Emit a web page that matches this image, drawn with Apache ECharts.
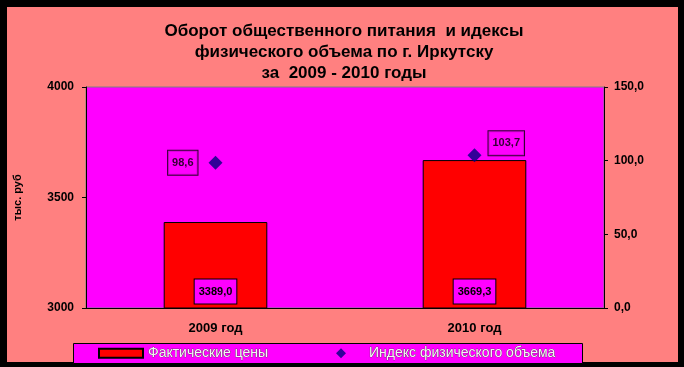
<!DOCTYPE html>
<html><head><meta charset="utf-8">
<script src="https://cdn.jsdelivr.net/npm/echarts@6/dist/echarts.min.js"></script>
<style>html,body{margin:0;padding:0;background:#000;}#c{width:684px;height:367px;}</style>
</head><body><div id="c"></div>
<script>
const titleLines = ['Оборот общественного питания  и идексы', 'физического объема по г. Иркутску', 'за  2009 - 2010 годы'];
const categories = ['2009 год', '2010 год'];
const turnover = [3389.0, 3669.3];
const index = [98.6, 103.7];
const seriesNames = ['Фактические цены', 'Индекс физического объема'];
const leftAxisName = 'тыс. руб';
const leftAxis = {min: 3000, max: 4000, interval: 500};
const rightAxis = {min: 0, max: 150, interval: 50};

const fmt = v => Number(v).toFixed(1).replace('.', ',');
const FONT = 'Arial, "Liberation Sans", sans-serif';
const labelBox = {
  backgroundColor: '#FF00FF', borderColor: '#000', borderWidth: 1,
  color: '#000', fontFamily: FONT, fontSize: 11, fontWeight: 'bold',
  padding: [7, 4, 6, 4]
};
const legendText = {fontFamily: FONT, fontSize: 14, color: '#f4f4f4', textBorderColor: '#444', textBorderWidth: 0.6};

const chart = echarts.init(document.getElementById('c'), null, {renderer: 'canvas'});
const idxLabelPos = [
  {position: 'left', distance: 11, offset: [0, 0]},
  {position: 'right', distance: 7, offset: [0, -12]}
];
chart.setOption({
  backgroundColor: '#000',
  animation: false,
  title: {
    text: titleLines.join('\n'), left: 339, textAlign: 'center', top: 16,
    textStyle: {fontFamily: FONT, fontSize: 17, fontWeight: 'bold', color: '#000', lineHeight: 21}
  },
  graphic: [
    {type: 'rect', z: -10, shape: {x: 7, y: 7, width: 671, height: 355}, style: {fill: '#FF8080'}},
    {type: 'rect', z: 1, shape: {x: 73.5, y: 343.5, width: 509, height: 20}, style: {fill: '#FF00FF', stroke: '#000', lineWidth: 1}}
  ],
  grid: {left: 86, right: 80, top: 87, bottom: 59, show: true, backgroundColor: '#FF00FF', borderColor: '#808080', borderWidth: 1},
  legend: [
    {data: [{name: seriesNames[0], icon: 'rect'}], left: 98, top: 346, padding: 0, itemWidth: 44, itemHeight: 9, z: 5, textStyle: legendText},
    {data: [{name: seriesNames[1], icon: 'diamond'}], left: 336, top: 346, padding: 0, itemWidth: 10, itemHeight: 10, z: 5,
     textStyle: Object.assign({padding: [0, 0, 0, 18]}, legendText)}
  ],
  xAxis: {
    type: 'category', data: categories,
    axisLine: {lineStyle: {color: '#000', width: 1}},
    axisTick: {length: 5, lineStyle: {color: '#000'}},
    axisLabel: {margin: 14, color: '#000', fontFamily: FONT, fontSize: 13, fontWeight: 'bold'}
  },
  yAxis: [
    {type: 'value', min: leftAxis.min, max: leftAxis.max, interval: leftAxis.interval,
     name: leftAxisName, nameLocation: 'middle', nameRotate: 90, nameGap: 63,
     nameTextStyle: {fontFamily: FONT, fontSize: 11, fontWeight: 'bold', color: '#000'},
     axisLine: {show: true, lineStyle: {color: '#000'}},
     axisTick: {show: true, length: 4, lineStyle: {color: '#000'}},
     splitLine: {show: false},
     axisLabel: {margin: 12, color: '#000', fontFamily: FONT, fontSize: 12, fontWeight: 'bold', formatter: v => String(v)}},
    {type: 'value', min: rightAxis.min, max: rightAxis.max, interval: rightAxis.interval, position: 'right',
     axisLine: {show: true, lineStyle: {color: '#000'}},
     axisTick: {show: true, length: 4, lineStyle: {color: '#000'}},
     splitLine: {show: false},
     axisLabel: {margin: 10, color: '#000', fontFamily: FONT, fontSize: 12, fontWeight: 'bold', formatter: fmt}}
  ],
  series: [
    {name: seriesNames[0], type: 'bar', yAxisIndex: 0, barWidth: '40%', data: turnover,
     itemStyle: {color: '#FF0000', borderColor: '#000', borderWidth: 1},
     label: Object.assign({show: true, position: 'insideBottom', distance: 5, formatter: p => fmt(p.value)}, labelBox)},
    {name: seriesNames[1], type: 'scatter', yAxisIndex: 1, symbol: 'diamond', symbolSize: 14, z: 3,
     itemStyle: {color: '#000080'},
     data: index.map((v, i) => ({value: v, label: Object.assign({show: true, formatter: p => fmt(p.value)}, labelBox, idxLabelPos[i])}))}
  ]
});
</script></body></html>
